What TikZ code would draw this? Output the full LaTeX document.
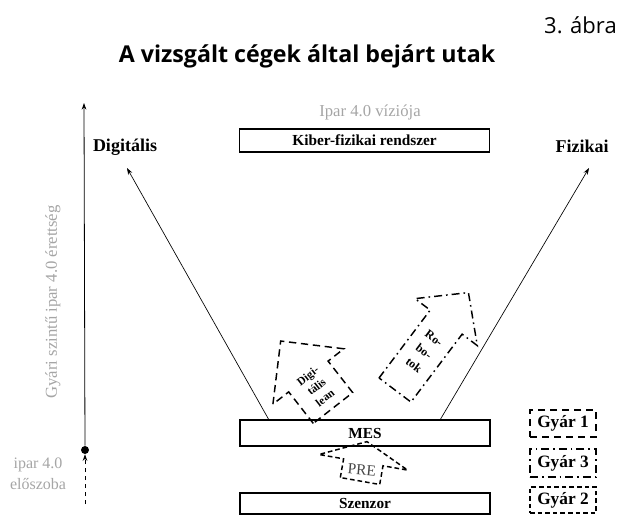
\documentclass[tikz,border=0pt]{standalone}
\usepackage{fontspec}
\setmainfont{Liberation Serif}
\newfontfamily\titlefont{Open Sans}
\usetikzlibrary{arrows.meta}
\definecolor{labelgray}{RGB}{165,165,165}
\definecolor{pregray}{RGB}{70,70,70}
\def\pxu{0.75pt}
\def\boxw{250}
\def\gyarw{66}

\begin{document}
\begin{tikzpicture}[
    x=\pxu, y=-\pxu,
    arrowtip/.style={
      -{Stealth[length=5pt,width=3.5pt]}
    },
    layerbox/.style={draw, line width=1.1pt, inner sep=0pt,
      minimum width=\boxw*\pxu, font=\bfseries\fontsize{11.5}{12}\selectfont},
    gyarbox/.style={draw, line width=1.1pt, inner sep=0pt,
      minimum width=\gyarw*\pxu, font=\bfseries\fontsize{13}{14}\selectfont},
    factoryone/.style={dash pattern=on 5.5pt off 3.5pt},
    factorythree/.style={dash pattern=on 6pt off 3pt on 1.2pt off 3pt},
    factorytwo/.style={dash pattern=on 3.5pt off 2.2pt},
    graylabel/.style={text=labelgray, font=\fontsize{12.5}{14}\selectfont}
  ]
    \useasboundingbox (0,0) rectangle (630,515);

    % title
    \node[anchor=east, inner sep=0pt, font=\titlefont\fontsize{16.5}{18}\selectfont] (fignum) at (617,25) {3. ábra};
    \node[font=\titlefont\bfseries\fontsize{17.4}{19}\selectfont] (title) at (307,56) {A vizsgált cégek által bejárt utak};

    % maturity axis
    \coordinate (axtop) at (84,103);
    \coordinate (axbottom) at (85,504);
    \node[circle, fill, inner sep=0pt, minimum size=6pt] (axdot) at (85,450) {};
    \draw[arrowtip, line width=0.6pt] (axdot) -- (axtop);
    \draw[arrowtip, dashed, line width=0.6pt] (axbottom) -- (axdot.south);
    \node[graylabel, rotate=90] (axlabel) at (53,302) {Gyári szintű ipar 4.0 érettség};
    \node[graylabel, align=center, font=\fontsize{12}{16}\selectfont] (lobby) at (38,474) {ipar 4.0\\előszoba};

    % layers
    \node[graylabel] (vision) at (370,112) {Ipar 4.0 víziója};
    \node[layerbox, minimum height=23*\pxu] (cps) at (364.5,140.5) {Kiber-fizikai rendszer};
    \node[layerbox, minimum height=26*\pxu] (mes) at (365,433) {MES};
    \node[layerbox, minimum height=21*\pxu] (sensor) at (365,503.5) {Szenzor};

    % two directions
    \node[font=\bfseries\fontsize{13.5}{15}\selectfont] (digital) at (125,147) {Digitális};
    \node[font=\bfseries\fontsize{13.5}{15}\selectfont] (physical) at (582,146) {Fizikai};
    \coordinate (digfoot) at (269,420);
    \coordinate (digtip) at (127,168);
    \coordinate (phyfoot) at (440,420);
    \coordinate (phytip) at (589,168);
    \draw[arrowtip, line width=0.5pt] (digfoot) -- (digtip);
    \draw[arrowtip, line width=0.5pt] (phyfoot) -- (phytip);

    % paths of the factories
    \begin{scope}[shift={(333,408)}, rotate=38]
      \draw[factoryone, line width=1.1pt] (-25,0) -- (-25,-40) -- (-45,-40) -- (0,-85)
        -- (45,-40) -- (25,-40) -- (25,0) -- cycle;
      \node[rotate=38, align=center, font=\bfseries\fontsize{8.5}{10.5}\selectfont] (lean) at (0,-27) {Digi-\\tális\\lean};
    \end{scope}

    \begin{scope}[shift={(395,390)}, rotate=-37]
      \draw[factorythree, line width=1.1pt] (-20,0) -- (-20,-85) -- (-39,-85) -- (0,-122)
        -- (39,-85) -- (20,-85) -- (20,0) -- cycle;
      \node[rotate=-37, align=center, font=\bfseries\fontsize{9}{12.5}\selectfont] (robots) at (0,-48) {Ro-\\bo-\\tok};
    \end{scope}

    \begin{scope}[shift={(360,481)}, rotate=-10]
      \draw[factorytwo, line width=1.1pt] (-20,0) -- (-20,-19) -- (-45,-19) -- (0,-40)
        -- (45,-19) -- (20,-19) -- (20,0) -- cycle;
      \node[rotate=-5, text=pregray, font=\fontsize{11.5}{12}\selectfont] (pre) at (0,-11) {PRE};
    \end{scope}

    % legend
    \node[gyarbox, factoryone, minimum height=27*\pxu] (gyar1) at (563,423.5) {Gyár 1};
    \node[gyarbox, factorythree, minimum height=28*\pxu] (gyar3) at (563,463) {Gyár 3};
    \node[gyarbox, factorytwo, minimum height=26*\pxu] (gyar2) at (563,500) {Gyár 2};
  \end{tikzpicture}
\end{document}
